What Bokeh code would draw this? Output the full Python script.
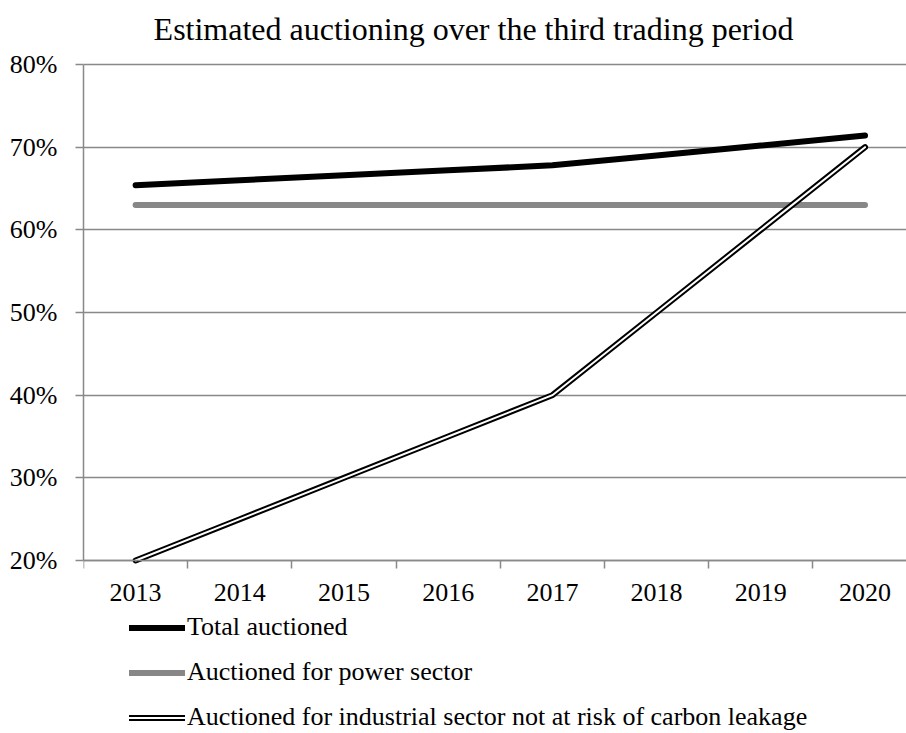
from bokeh.plotting import figure
from bokeh.models import Range1d, FixedTicker, Legend, LegendItem, Label
from bokeh.embed import file_html
from bokeh.resources import INLINE

years = ["2013", "2014", "2015", "2016", "2017", "2018", "2019", "2020"]
total_auctioned = [65.4, 66.0, 66.6, 67.2, 67.8, 69.0, 70.2, 71.4]
power_sector = [63.0, 63.0, 63.0, 63.0, 63.0, 63.0, 63.0, 63.0]
industrial_sector = [20.0, 25.0, 30.0, 35.0, 40.0, 50.0, 60.0, 70.0]
y_ticks = [20, 30, 40, 50, 60, 70, 80]
y_labels = ["20%", "30%", "40%", "50%", "60%", "70%", "80%"]
title_text = "Estimated auctioning over the third trading period"
series_names = ["Total auctioned", "Auctioned for power sector",
                "Auctioned for industrial sector not at risk of carbon leakage"]

FONT = "Liberation Serif"
GRID = "#898989"

xs = list(range(len(years)))
y_min, y_max = y_ticks[0], y_ticks[-1]

# frame spans the whole height; 20%..80% sits at the reference pixel rows
W, H = 906, 733
top_px, bottom_px = 64, 560          # rows of 80% and 20% in the page
scale = (bottom_px - top_px) / (y_max - y_min)
y_top = y_max + top_px / scale
y_bot = y_min - (H - bottom_px) / scale

p = figure(width=W, height=H, output_backend="svg", toolbar_location=None,
           x_range=Range1d(-0.5, 7.398), y_range=Range1d(y_bot, y_top),
           min_border_left=83, min_border_right=0, min_border_top=0,
           min_border_bottom=0)
p.outline_line_color = None
p.background_fill_color = "white"
p.border_fill_color = "white"

# title
p.add_layout(Label(x=390, y=H - 28, x_units="screen", y_units="screen",
                   text=title_text, text_align="center", text_baseline="alphabetic",
                   text_font=FONT, text_font_size="32px", text_color="black"))

# x axis at the 20% line
xa = p.xaxis[0]
xa.fixed_location = y_min
xa.ticker = FixedTicker(ticks=xs, minor_ticks=[i - 0.5 for i in range(len(years))])
xa.major_label_overrides = {i: y for i, y in enumerate(years)}
xa.major_tick_line_color = None
xa.major_tick_out = 0
xa.major_tick_in = 0
xa.minor_tick_line_color = GRID
xa.minor_tick_line_width = 1.5
xa.minor_tick_out = 8
xa.minor_tick_in = 0
xa.axis_line_color = GRID
xa.axis_line_width = 1.5
xa.major_label_text_font = FONT
xa.major_label_text_font_size = "26px"
xa.major_label_text_color = "black"
xa.major_label_standoff = 15

ya = p.yaxis[0]
ya.bounds = (y_min, y_max)
ya.ticker = FixedTicker(ticks=y_ticks)
ya.major_label_overrides = {v: l for v, l in zip(y_ticks, y_labels)}
ya.major_tick_line_color = GRID
ya.major_tick_line_width = 1.5
ya.major_tick_out = 8
ya.major_tick_in = 0
ya.minor_tick_line_color = None
ya.axis_line_color = GRID
ya.axis_line_width = 1.5
ya.major_label_text_font = FONT
ya.major_label_text_font_size = "26px"
ya.major_label_text_color = "black"
ya.major_label_standoff = 18

p.xgrid.grid_line_color = None
p.ygrid.grid_line_color = GRID
p.ygrid.grid_line_width = 1.5
p.ygrid.ticker = FixedTicker(ticks=y_ticks)

# series
r_total = p.line(xs, total_auctioned, line_color="black", line_width=6,
                 line_cap="round", line_join="round")
r_power = p.line(xs, power_sector, line_color="#878787", line_width=6,
                 line_cap="round", line_join="round")
r_ind_outer = p.line(xs, industrial_sector, line_color="black", line_width=6,
                     line_cap="round", line_join="miter")
r_ind_inner = p.line(xs, industrial_sector, line_color="white", line_width=2,
                     line_cap="round", line_join="miter")

legend = Legend(items=[
    LegendItem(label=series_names[0], renderers=[r_total]),
    LegendItem(label=series_names[1], renderers=[r_power]),
    LegendItem(label=series_names[2], renderers=[r_ind_outer, r_ind_inner]),
], location=(46, 1), orientation="vertical")
legend.glyph_width = 56
legend.glyph_height = 25
legend.label_height = 25
legend.label_standoff = 2
legend.spacing = 15
legend.padding = 0
legend.margin = 0
legend.border_line_color = None
legend.background_fill_alpha = 0
legend.label_text_font = FONT
legend.label_text_font_size = "26px"
legend.label_text_color = "black"
p.add_layout(legend, "center")

open("out.html", "w").write(file_html(p, INLINE))
